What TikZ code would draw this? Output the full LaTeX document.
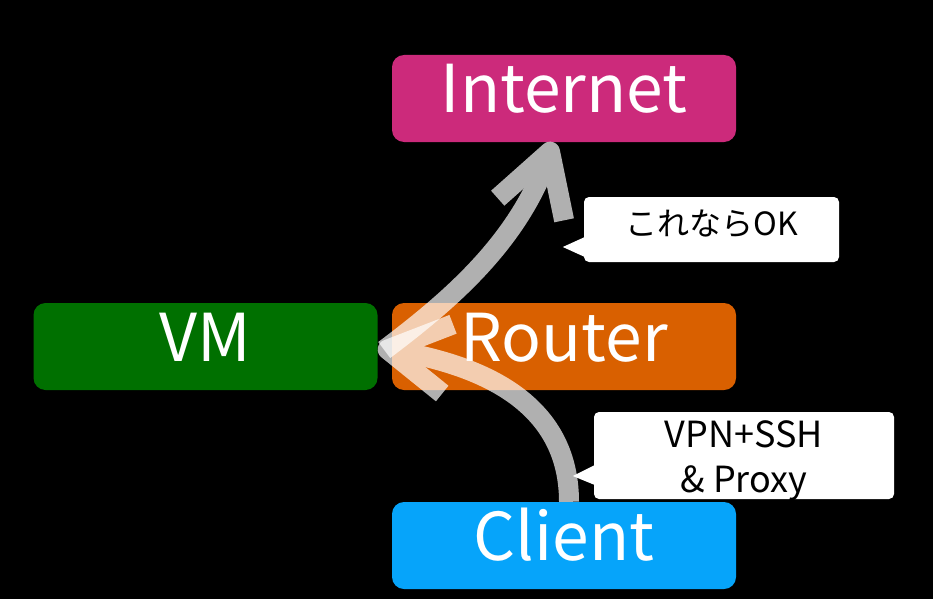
\documentclass[tikz,border=0pt]{standalone}
\usepackage{fontspec}
\setmainfont{Noto Sans CJK JP}
\usetikzlibrary{calc}
\definecolor{netpink}{RGB}{204,42,123}
\definecolor{vmgreen}{RGB}{0,112,0}
\definecolor{routerorange}{RGB}{217,96,0}
\definecolor{clientblue}{RGB}{6,164,250}
\begin{document}
\begin{tikzpicture}[x=1pt,y=-1pt]
\fill[black] (0,0) rectangle (933,599);
\useasboundingbox (0,0) rectangle (933,599);
  \begin{scope}[every node/.style={rounded corners=12pt, inner sep=0pt,
      minimum width=344pt, minimum height=87pt, text=white,
      font=\fontsize{66}{70}\selectfont, text height=48pt, text depth=19pt}]
  \node[fill=netpink] (internet) at (564,98.5) {Internet};
  \node[fill=vmgreen] (vm) at (205.5,346.5) {VM};
  \node[fill=routerorange] (router) at (564,346.5) {Router};
  \node[fill=clientblue] (client) at (564,545.5) {Client};
 \end{scope}
 \begin{scope}[every node/.style={fill=white, rounded corners=5pt, inner sep=0pt}]
  \node[minimum width=255pt, minimum height=65pt, text height=22pt, text depth=11pt,
    font=\fontsize{32}{38}\selectfont] (okbox) at (711.5,229.5) {これならOK};
  \node[minimum width=300pt, minimum height=87pt, text height=80pt, text depth=7pt,
    align=center, font=\fontsize{36}{45}\selectfont] (vpnbox) at (744,455.5) {VPN+SSH\\\& Proxy};
 \end{scope}
  \fill[white] ($(okbox.west)+(1,7.5)$) -- ($(okbox.west)+(-21,17.5)$) -- ($(okbox.west)+(1,27.5)$) -- cycle;
  \fill[white] ($(vpnbox.west)+(1,9.5)$) -- ($(vpnbox.west)+(-21,20.5)$) -- ($(vpnbox.west)+(1,29.5)$) -- cycle;
  \coordinate (vmout) at ($(vm.east)+(6.5,3.5)$);
  \coordinate (netin) at ($(internet.south)+(-14,9.5)$);
  \coordinate (clientout) at ($(client.north)+(5,0)$);
  \coordinate (vmin) at ($(vm.east)+(10,3)$);
 \begin{scope}[transparency group, opacity=0.69, every path/.style={draw=white, line width=20pt}]
  \path (vmout) .. controls ($(vmout)+(72,-54)$) and ($(netin)+(-28.4,85.4)$) .. (netin);
  \path[line join=round] ($(netin)+(14.1,68.6)$) -- (netin) -- ($(netin)+(-52.3,46.5)$);
 \end{scope}
 \begin{scope}[transparency group, opacity=0.69, every path/.style={draw=white, line width=20pt}]
  \path (clientout) .. controls ($(clientout)+(0,-107)$) and ($(vmin)+(80,12.5)$) .. (vmin);
  \path[line join=round] ($(vmin)+(65.3,-25.2)$) -- (vmin) -- ($(vmin)+(54.5,44)$);
 \end{scope}
\end{tikzpicture}
\end{document}
